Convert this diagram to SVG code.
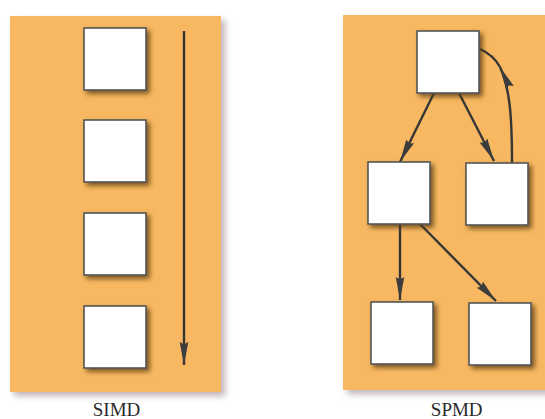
<svg xmlns="http://www.w3.org/2000/svg" width="545" height="419" viewBox="0 0 545 419">
  <defs>
    <style>
      .panel { fill: #F8B862; filter: url(#panelShadow); }
      .box { fill: #ffffff; stroke: #555555; stroke-width: 1.6; filter: url(#boxShadow); }
      .edge { fill: none; stroke: #363636; stroke-width: 2.4; }
      .label { font-family: "Liberation Serif", "Times New Roman", serif; font-size: 19px; fill: #2a2a2a; text-anchor: middle; }
    </style>
    <filter id="panelShadow" x="-10%" y="-10%" width="125%" height="125%">
      <feGaussianBlur in="SourceAlpha" stdDeviation="3"/>
      <feOffset dx="4" dy="4" result="b"/>
      <feFlood flood-color="#8c7480" flood-opacity="0.55"/>
      <feComposite in2="b" operator="in"/>
      <feMerge><feMergeNode/><feMergeNode in="SourceGraphic"/></feMerge>
    </filter>
    <filter id="boxShadow" x="-20%" y="-20%" width="150%" height="150%">
      <feGaussianBlur in="SourceAlpha" stdDeviation="2.5"/>
      <feOffset dx="3" dy="3" result="b"/>
      <feFlood flood-color="#5a3a10" flood-opacity="0.8"/>
      <feComposite in2="b" operator="in"/>
      <feMerge><feMergeNode/><feMergeNode in="SourceGraphic"/></feMerge>
    </filter>
    <marker id="arrow" markerUnits="userSpaceOnUse" markerWidth="26" markerHeight="12" viewBox="0 -6 26 12" refX="23" refY="0" orient="auto">
      <path d="M0,-4.3 L23,0 L0,4.3 L2.5,0 Z" fill="#3c3c3c"/>
    </marker>
  </defs>

  <!-- background panels -->
  <rect class="panel" x="10" y="16" width="211" height="376"/>
  <rect class="panel" x="343" y="15" width="220" height="375"/>

  <!-- connectors -->
  <g id="connectors">
    <path class="edge" d="M184,31 L184,365" marker-end="url(#arrow)"/>
    <path class="edge" d="M434,93 L400,162" marker-end="url(#arrow)"/>
    <path class="edge" d="M459,93 L494,161" marker-end="url(#arrow)"/>
    <path class="edge" d="M400,224 L400,300" marker-end="url(#arrow)"/>
    <path class="edge" d="M420,224 L496,301" marker-end="url(#arrow)"/>
    <path class="edge" d="M512,163 C512,118 510,88 500,67" marker-end="url(#arrow)"/>
    <path class="edge" d="M500,67 C495,58 489,53 480,49"/>
  </g>

  <!-- SIMD nodes -->
  <g id="simd-1"><rect class="box" x="84" y="28" width="62" height="62"/></g>
  <g id="simd-2"><rect class="box" x="84" y="120" width="62" height="62"/></g>
  <g id="simd-3"><rect class="box" x="84" y="213" width="62" height="62"/></g>
  <g id="simd-4"><rect class="box" x="84" y="306" width="62" height="62"/></g>

  <!-- SPMD nodes -->
  <g id="spmd-top"><rect class="box" x="417" y="31" width="62" height="62"/></g>
  <g id="spmd-mid-left"><rect class="box" x="368" y="162" width="62" height="62"/></g>
  <g id="spmd-mid-right"><rect class="box" x="466" y="163" width="62" height="62"/></g>
  <g id="spmd-bottom-left"><rect class="box" x="371" y="302" width="62" height="62"/></g>
  <g id="spmd-bottom-right"><rect class="box" x="469" y="303" width="62" height="62"/></g>

  <!-- captions -->
  <text class="label" x="116.5" y="416">SIMD</text>
  <text class="label" x="456.7" y="416">SPMD</text>
</svg>
